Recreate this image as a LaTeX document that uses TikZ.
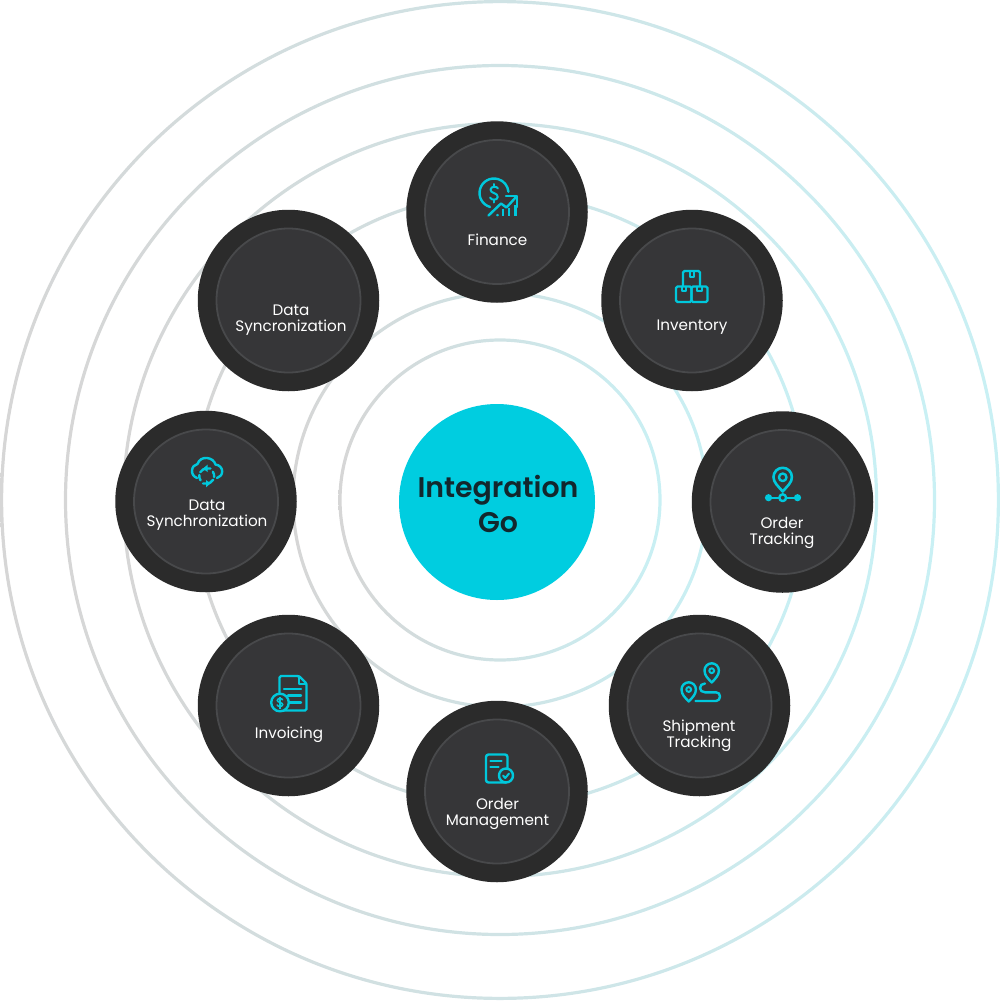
\documentclass[tikz,border=0pt]{standalone}
\usepackage{fontspec}
\setmainfont{Poppins}
\newfontfamily\popsemi{Poppins SemiBold}
\definecolor{ringL}{HTML}{D6D6D6}
\definecolor{ringM}{HTML}{D2DBDC}
\definecolor{ringR}{HTML}{C9F0F4}
\definecolor{discO}{HTML}{2B2B2B}
\definecolor{discI}{HTML}{363638}
\definecolor{discE}{HTML}{48494B}
\definecolor{hub}{HTML}{00CDE0}
\definecolor{hubtext}{HTML}{12272D}
\definecolor{ico}{HTML}{00C8DC}
\tikzset{
  outerdisc/.style={circle,fill=discO,minimum size=181.5pt,inner sep=0pt},
  innerdisc/.style={circle,fill=discI,draw=discE,line width=1.8pt,minimum size=144pt,inner sep=0pt},
  lbl/.style={text=white,align=center,font=\fontsize{15.2}{16.2}\selectfont,inner sep=0pt},
  icon/.style={draw=ico,line width=2.4pt,line cap=round,line join=round},
  iconthin/.style={draw=ico,line width=2pt,line cap=round,line join=round},
  ringshade/.style={even odd rule,left color=ringL,middle color=ringM,right color=ringR}
}
\newcommand{\ringat}[1]{\shade[ringshade] (500,500) circle[radius=#1+1.6] circle[radius=#1-1.6];}
\begin{document}
\begin{tikzpicture}[x=1pt,y=-1pt]
\useasboundingbox (0,0) rectangle (1001,1001);
\ringat{498.4}\ringat{434.5}\ringat{376.5}\ringat{306}\ringat{207}\ringat{160}
\node[circle,fill=hub,minimum size=196pt,inner sep=0pt] (hubdisc) at (497,502) {};
\node[text=hubtext,align=center,inner sep=0pt,font=\popsemi\fontsize{28.4}{35}\selectfont] (hublabel) at (498,504) {Integration\\Go};
\foreach \n/\x/\y in {fin/497/212,inv/692/300.5,trk/782.5/502,shp/699.5/705.5,mgt/497/791.5,bil/288.5/705.5,syn/206/501.5,syc/288.5/300.5}{
  \node[outerdisc] (\n o) at (\x,\y) {};
  \node[innerdisc] (\n i) at (\x,\y) {};
}
\node[lbl] (finl) at (497.5,240) {Finance};
\node[lbl] (invl) at (692,327.5) {Inventory};
\node[lbl] (trkl) at (782,533) {Order\\Tracking};
\node[lbl] (shpl) at (699,736) {Shipment\\Tracking};
\node[lbl] (mgtl) at (497.5,814) {Order\\Management};
\node[lbl] (bill) at (289,734.5) {Invoicing};
\node[lbl] (synl) at (207,515) {Data\\Synchronization};
\node[lbl] (sycl) at (291,320) {Data\\Syncronization};
% Finance icon
\draw[icon] (494,193) ++(106:14.5) arc[start angle=106,end angle=355,radius=14.5];
\draw[icon] (488.5,215.5) -- (501,203.5) -- (506.5,207.5) -- (516.5,196.5);
\draw[icon] (506,196) -- (517,196) -- (517,207);
\draw[icon] (497.5,215) -- (497.5,215.2);
\draw[icon,line cap=butt] (503,209) -- (503,215.8) (509,207.5) -- (509,215.8) (515.5,205) -- (515.5,215.8);
\draw[iconthin] (498,188.5) .. controls (497,186) and (491,186) .. (490.5,189.5) .. controls (490,193.5) and (498,192.5) .. (497.8,197) .. controls (497.5,200.5) and (491,200.5) .. (490,197.5);
\draw[iconthin] (494,184) -- (494,186.5) (494,200) -- (494,202.5);
% Inventory icon
\draw[icon,rounded corners=1.5pt] (683,286) -- (683,271) -- (700,271) -- (700,286);
\draw[icon,rounded corners=1.5pt] (676,286.5) rectangle (691.5,302);
\draw[icon,rounded corners=1.5pt] (691.5,286.5) rectangle (707.5,302);
\draw[iconthin] (689.5,271) -- (689.5,276.5) -- (694,276.5) -- (694,271);
\draw[iconthin] (681.5,286.5) -- (681.5,291) -- (686,291) -- (686,286.5);
\draw[iconthin] (697,286.5) -- (697,291) -- (701.5,291) -- (701.5,286.5);
% Order Tracking icon
\draw[icon,line width=2.6pt] (782.7,491.5) .. controls (778,486) and (773.5,482.5) .. (773.5,477) arc[start angle=180,end angle=360,radius=9.2] .. controls (792,482.5) and (787.4,486) .. (782.7,491.5) -- cycle;
\draw[icon] (782.7,477.3) circle[radius=3.8];
\draw[icon] (768.5,497.7) -- (797.5,497.7);
\fill[ico] (768.5,497.7) circle[radius=3.6] (797.5,497.7) circle[radius=3.6];
\draw[icon,fill=discI] (782.7,497.7) circle[radius=3.4];
% Shipment Tracking icon
\draw[icon] (711.7,682.5) .. controls (708,678.5) and (704.5,675.5) .. (704.5,670.5) arc[start angle=180,end angle=360,radius=7.2] .. controls (718.9,675.5) and (715.4,678.5) .. (711.7,682.5) -- cycle;
\draw[iconthin] (711.7,670.7) circle[radius=2.4];
\draw[icon] (688.7,701.5) .. controls (685,697.5) and (681.5,694.5) .. (681.5,689.5) arc[start angle=180,end angle=360,radius=7.2] .. controls (695.9,694.5) and (692.4,697.5) .. (688.7,701.5) -- cycle;
\draw[iconthin] (688.7,689.5) circle[radius=2.4];
\draw[icon] (705,683.5) .. controls (702,683.5) and (700,685.5) .. (700,688) .. controls (700,690.5) and (702,692.3) .. (705,692.3) -- (716,692.3) .. controls (718.5,692.3) and (720,694) .. (720,696.5) .. controls (720,699) and (718.5,701) .. (716,701) -- (695.5,701);
% Order Management icon
\draw[icon,rounded corners=2.5pt] (486,754.5) rectangle (507.5,782.5);
\draw[icon,fill=discI] (506,775.5) circle[radius=7];
\draw[icon] (490.5,761) -- (501.5,761) (490.5,767) -- (498.5,767);
\draw[iconthin] (503,775.5) -- (505.3,778) -- (509,773.5);
% Invoicing icon
\draw[icon,rounded corners=1.5pt] (279.5,693) -- (279.5,676) -- (299,676) -- (306.5,683.5) -- (306.5,710.5) -- (281,710.5);
\draw[iconthin] (299,676) -- (299,683.5) -- (306.5,683.5);
\draw[icon] (284,688.7) -- (301,688.7) (288,695.5) -- (301,695.5) (290,702.3) -- (301,702.3);
\draw[icon,fill=discI] (280,702.5) circle[radius=8.8];
\draw[draw=ico,line width=1.5pt,line cap=round] (282.5,699.8) .. controls (282,698) and (277.5,698) .. (277.3,700.3) .. controls (277.2,702.8) and (282.8,702) .. (282.7,704.7) .. controls (282.5,707) and (277.7,707) .. (277.2,705);
\draw[draw=ico,line width=1.3pt] (280,696.5) -- (280,708.5);
% Data Synchronization icon
\draw[icon] (197,478) .. controls (193.5,476.5) and (191.8,474) .. (192,470.5) .. controls (192.2,467) and (194.5,464.5) .. (197.5,464) .. controls (199,459.5) and (203,457.5) .. (207,458) .. controls (211,458.3) and (214.5,461) .. (215.5,464.5) .. controls (219.5,465) and (222.3,468) .. (222.2,471.5) .. controls (222,475) and (220,477) .. (217,478);
\draw[icon] (206.7,476) ++(-150:7.5) arc[start angle=-150,end angle=-85,radius=7.5] -- ++(3,0);
\draw[icon] (206.7,476) ++(30:7.5) arc[start angle=30,end angle=95,radius=7.5] -- ++(-3,0);
\draw[icon] (206.7,476) ++(-35:7.5) arc[start angle=-35,end angle=8,radius=7.5];
\draw[icon] (206.7,476) ++(145:7.5) arc[start angle=145,end angle=188,radius=7.5];
\fill[ico] (207.5,464.7) -- (203,468.5) -- (207.5,472) -- cycle;
\fill[ico] (206,487.3) -- (210.5,483.5) -- (206,480) -- cycle;
\end{tikzpicture}
\end{document}
